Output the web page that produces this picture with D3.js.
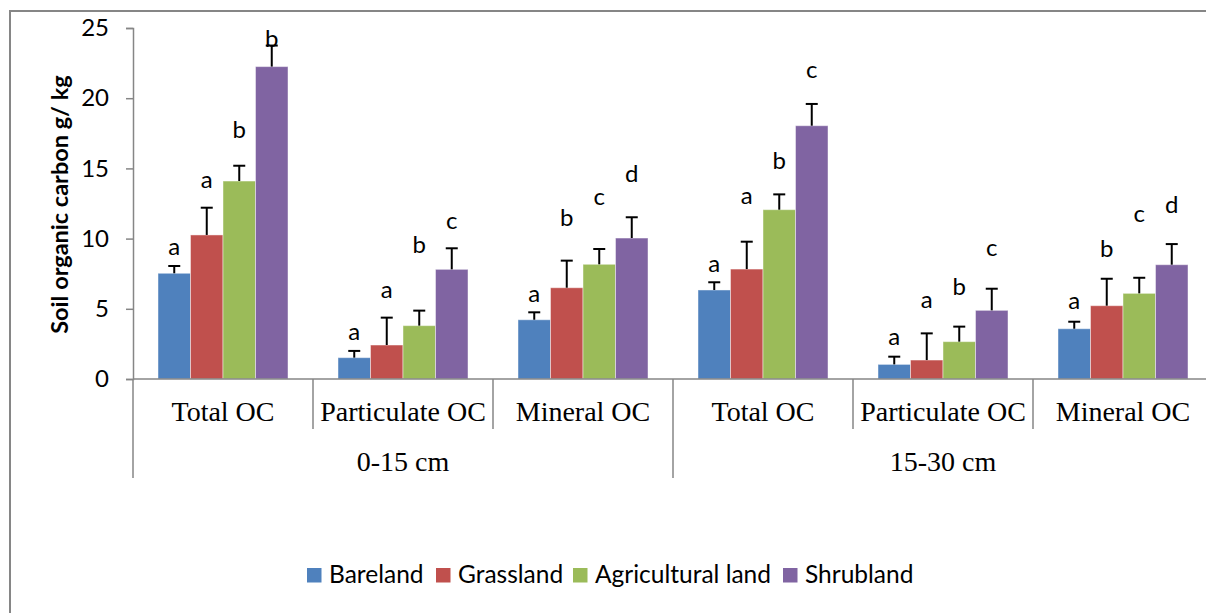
<!DOCTYPE html>
<html>
<head>
<meta charset="utf-8">
<script src="https://cdn.jsdelivr.net/npm/d3@7"></script>
<style>
  html, body { margin: 0; padding: 0; background: #fff; }
  svg { display: block; }
  .sans { font-family: Lato, "Noto Sans", sans-serif; }
  .serif { font-family: "Liberation Serif", "Times New Roman", serif; }
</style>
</head>
<body>
<svg id="chart" width="1206" height="613"></svg>
<script>
// Fractions and soil depths along the x axis
const fractions = ["Total OC", "Particulate OC", "Mineral OC"];
const depths = ["0-15 cm", "15-30 cm"];
const landUses = ["Bareland", "Grassland", "Agricultural land", "Shrubland"];
const colors = ["#4F81BD", "#C0504D", "#9BBB59", "#8064A2"];
const yTicks = [0, 5, 10, 15, 20, 25];

// Mean soil organic carbon (g/kg), one value per fraction x depth
const bareland     = [7.53, 1.52, 4.22, 6.34, 1.04, 3.58];
const grassland    = [10.26, 2.42, 6.50, 7.83, 1.35, 5.22];
const agricultural = [14.10, 3.80, 8.17, 12.06, 2.66, 6.10];
const shrubland    = [22.25, 7.81, 10.04, 18.04, 4.89, 8.14];

// Standard errors (upper whisker only)
const barelandErr     = [0.52, 0.48, 0.53, 0.55, 0.55, 0.50];
const grasslandErr    = [1.94, 1.95, 1.93, 1.95, 1.90, 1.92];
const agriculturalErr = [1.09, 1.07, 1.09, 1.09, 1.07, 1.11];
const shrublandErr    = [1.50, 1.50, 1.48, 1.55, 1.54, 1.47];

// Significance letters and the value at which each letter's baseline sits
const barelandSig     = ["a", "a", "a", "a", "a", "a"];
const grasslandSig    = ["a", "a", "b", "a", "a", "b"];
const agriculturalSig = ["b", "b", "c", "b", "b", "c"];
const shrublandSig    = ["b", "c", "d", "c", "c", "d"];
const barelandSigAt     = [8.83, 2.78, 5.50, 7.64, 2.42, 5.00];
const grasslandSigAt    = [13.58, 5.75, 10.90, 12.46, 5.03, 8.70];
const agriculturalSigAt = [17.14, 8.94, 12.39, 14.96, 5.98, 11.20];
const shrublandSigAt    = [23.67, 10.68, 14.05, 21.42, 8.76, 11.80];

const values = [bareland, grassland, agricultural, shrubland];
const errors = [barelandErr, grasslandErr, agriculturalErr, shrublandErr];
const sigs = [barelandSig, grasslandSig, agriculturalSig, shrublandSig];
const sigAt = [barelandSigAt, grasslandSigAt, agriculturalSigAt, shrublandSigAt];

// One category per depth x fraction
const categories = depths.flatMap(d => fractions.map(f => d + "|" + f));

const svg = d3.select("#chart");
const axisColor = "#868686";

// Outer frame (extends past the right and bottom edges)
svg.append("rect")
  .attr("x", 10).attr("y", 11)
  .attr("width", 1300).attr("height", 700)
  .attr("fill", "none").attr("stroke", axisColor).attr("stroke-width", 2);

const plotLeft = 133, plotTop = 28, plotBottom = 379;
const groupWidth = 180;

const x0 = d3.scaleBand()
  .domain(categories)
  .range([plotLeft, plotLeft + groupWidth * categories.length]);

const x1 = d3.scaleBand()
  .domain(landUses)
  .range([25, groupWidth - 25]);

const y = d3.scaleLinear().domain([0, 25]).range([plotBottom, plotTop]);

// Y axis
const yAxis = svg.append("g")
  .attr("transform", `translate(${plotLeft},0)`)
  .call(d3.axisLeft(y).tickValues(yTicks).tickSize(7).tickPadding(17).tickFormat(d3.format("d")));
yAxis.select(".domain").attr("stroke", axisColor).attr("stroke-width", 1.5);
yAxis.selectAll(".tick line").attr("stroke", axisColor).attr("stroke-width", 1.5);
yAxis.selectAll(".tick text")
  .attr("class", "sans").attr("font-size", 24).attr("fill", "#000");

// Y axis title
svg.append("text")
  .attr("class", "sans")
  .attr("transform", `translate(68,${(plotTop + plotBottom) / 2 + 1}) rotate(-90)`)
  .attr("text-anchor", "middle")
  .attr("font-size", 23.5).attr("font-weight", "bold")
  .text("Soil organic carbon g/ kg");

// Bars
const rows = categories.map((c, i) => ({ c, i }));
const groups = svg.append("g").selectAll("g")
  .data(rows).join("g")
  .attr("transform", d => `translate(${x0(d.c)},0)`);

groups.selectAll("rect")
  .data(d => landUses.map((s, k) => ({ s, k, v: values[k][d.i] })))
  .join("rect")
  .attr("x", d => x1(d.s))
  .attr("width", x1.bandwidth())
  .attr("y", d => y(d.v))
  .attr("height", d => y(0) - y(d.v))
  .attr("fill", d => colors[d.k])
  .attr("stroke", "rgba(255,255,255,0.45)")
  .attr("stroke-width", 1);

// Error bars
const capHalf = 6;
const eb = groups.selectAll("g.err")
  .data(d => landUses.map((s, k) => ({ s, k, v: values[k][d.i], e: errors[k][d.i] })))
  .join("g").attr("class", "err");
eb.append("line")
  .attr("x1", d => x1(d.s) + x1.bandwidth() / 2)
  .attr("x2", d => x1(d.s) + x1.bandwidth() / 2)
  .attr("y1", d => y(d.v)).attr("y2", d => y(d.v + d.e))
  .attr("stroke", "#000").attr("stroke-width", 2);
eb.append("line")
  .attr("x1", d => x1(d.s) + x1.bandwidth() / 2 - capHalf)
  .attr("x2", d => x1(d.s) + x1.bandwidth() / 2 + capHalf)
  .attr("y1", d => y(d.v + d.e)).attr("y2", d => y(d.v + d.e))
  .attr("stroke", "#000").attr("stroke-width", 2);

// Significance letters
groups.selectAll("text.sig")
  .data(d => landUses.map((s, k) => ({ s, k, t: sigs[k][d.i], at: sigAt[k][d.i] })))
  .join("text").attr("class", "sig sans")
  .attr("x", d => x1(d.s) + x1.bandwidth() / 2)
  .attr("y", d => y(d.at))
  .attr("text-anchor", "middle")
  .attr("font-size", 24)
  .text(d => d.t);

// X axis baseline
svg.append("line")
  .attr("x1", plotLeft).attr("x2", 1206)
  .attr("y1", plotBottom).attr("y2", plotBottom)
  .attr("stroke", axisColor).attr("stroke-width", 1.5);

// Category dividers: short ones between fractions, long ones between depths
categories.forEach((c, i) => {
  const xl = x0(c);
  const isDepthEdge = i % fractions.length === 0;
  svg.append("line")
    .attr("x1", xl).attr("x2", xl)
    .attr("y1", plotBottom).attr("y2", isDepthEdge ? 478 : 429)
    .attr("stroke", axisColor).attr("stroke-width", 1.5);
});

// Fraction labels
svg.append("g").selectAll("text")
  .data(categories).join("text")
  .attr("class", "serif")
  .attr("x", c => x0(c) + x0.bandwidth() / 2)
  .attr("y", 421)
  .attr("text-anchor", "middle")
  .attr("font-size", 28)
  .text(c => c.split("|")[1]);

// Depth labels
svg.append("g").selectAll("text")
  .data(depths).join("text")
  .attr("class", "serif")
  .attr("x", (d, j) => {
    const first = x0(categories[j * fractions.length]);
    return first + groupWidth * fractions.length / 2;
  })
  .attr("y", 471)
  .attr("text-anchor", "middle")
  .attr("font-size", 28)
  .text(d => d);

// Legend
const legendX = [307, 436, 573, 783];
const legend = svg.append("g").selectAll("g")
  .data(landUses).join("g")
  .attr("transform", (d, k) => `translate(${legendX[k]},568)`);
legend.append("rect")
  .attr("width", 14.5).attr("height", 14.5)
  .attr("fill", (d, k) => colors[k]);
legend.append("text")
  .attr("class", "sans")
  .attr("x", 22).attr("y", 14.5)
  .attr("font-size", 24.5)
  .text(d => d);
</script>
</body>
</html>
